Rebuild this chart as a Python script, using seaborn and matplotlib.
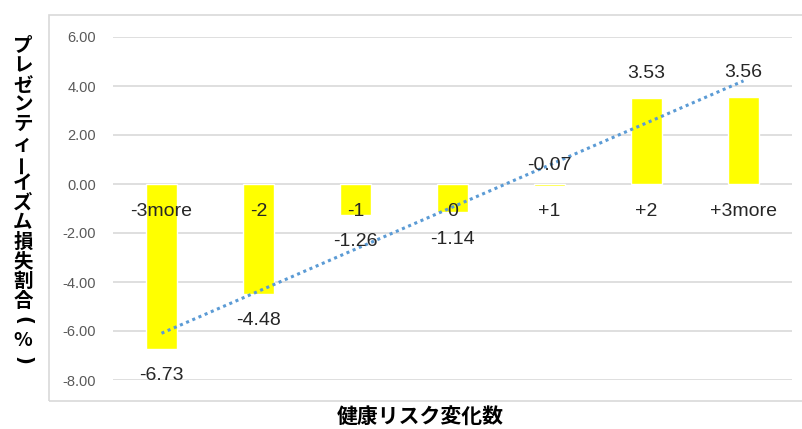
import numpy as np
import pandas as pd
import matplotlib
matplotlib.use("Agg")
import matplotlib.pyplot as plt
import seaborn as sns
from matplotlib.patches import Rectangle

categories = ["-3more", "-2", "-1", "0", "+1", "+2", "+3more"]
values = [-6.73, -4.48, -1.26, -1.14, -0.07, 3.53, 3.56]
yticks = [6, 4, 2, 0, -2, -4, -6, -8]
ylabel = "プレゼンティーイズム損失割合（%）"
xlabel = "健康リスク変化数"

sns.set_theme(style="white")
plt.rcParams['font.family'] = ['Liberation Sans', 'Noto Sans CJK JP', 'DejaVu Sans']

fig = plt.figure(figsize=(8.02, 4.29), dpi=100)
ax = fig.add_axes([113/802, 1-380/429, (792-113)/802, (380-37)/429])

df = pd.DataFrame({"cat": categories, "val": values})
sns.barplot(data=df, x="cat", y="val", color="#FFFF00", saturation=1, width=0.31, ax=ax, zorder=2)

# trend line (linear fit)
xs = np.arange(len(values))
m, b = np.polyfit(xs, values, 1)
ax.plot(xs, m*xs + b, linestyle=(0, (1, 1.2)), color="#5B9BD5", lw=2.2, zorder=3)

ax.set_ylim(-8, 6)
ax.set_xlim(-0.5, len(categories)-0.5)
ax.set_yticks(yticks)
ax.set_yticklabels([f"{t:.2f}" for t in yticks], fontsize=10.5, color="#595959")
ax.tick_params(axis='y', length=0, pad=12)
ax.set_xticks([])
ax.set_xlabel("")
ax.set_ylabel("")
ax.grid(axis='y', color="#D9D9D9", lw=1.2, zorder=0)
ax.set_axisbelow(True)
for s in ax.spines.values():
    s.set_visible(False)

# category labels just below zero line
for i, c in enumerate(categories):
    ax.annotate(c, (i, 0), xytext=(0, -19.5), textcoords="offset points",
                ha="center", va="center", fontsize=14, color="#262626", zorder=4)

# data labels
for i, v in enumerate(values):
    if v < -0.5:
        off = -19.5
    elif v < 0:
        off = 13
    else:
        off = 17.5
    ax.annotate(f"{v:.2f}", (i, v if v < -0.5 or v >= 0 else 0), xytext=(0, off),
                textcoords="offset points", ha="center", va="center",
                fontsize=14, color="#262626", zorder=4)

# chart area border
fig.add_artist(Rectangle((49/802, 1-401/429), 1.2, (401-15)/429, transform=fig.transFigure,
                         fill=False, edgecolor="#D9D9D9", lw=1.2))

# y label stacked vertically (vertical writing)
ys = np.linspace(1-46/429, 1-360/429, len(ylabel))
for ch, yy in zip(ylabel, ys):
    rot = 0
    fam = ['Noto Sans CJK JP', 'DejaVu Sans']
    if ch == "ー":
        rot = 90
    elif ch == "（":
        ch, rot, fam = "(", -90, ['DejaVu Sans']
    elif ch == "）":
        ch, rot, fam = ")", -90, ['DejaVu Sans']
    fig.text(23/802, yy, ch, ha="center", va="center", fontsize=14, fontweight="bold",
             rotation=rot, rotation_mode="anchor", family=fam, color="black")

fig.text(420/802, 1-417/429, xlabel, ha="center", va="center", fontsize=15,
         fontweight="bold", family=['Noto Sans CJK JP', 'DejaVu Sans'], color="black")

fig.savefig("out.png", dpi=100)
